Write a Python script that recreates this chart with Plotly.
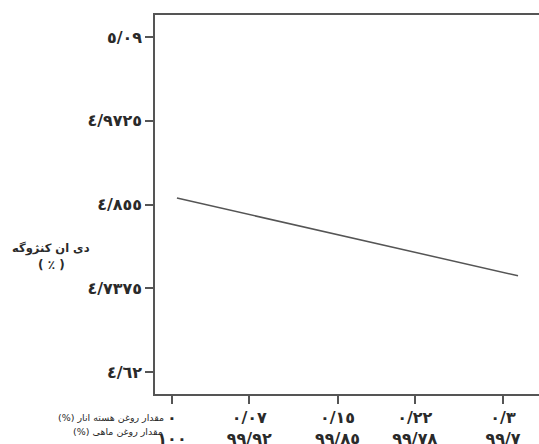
import plotly.graph_objects as go

# Data
line_x = [0.0045, 0.3136]
line_y = [4.864, 4.755]

y_tickvals = [5.09, 4.9725, 4.855, 4.7375, 4.62]
y_ticktext = ["٥/٠٩", "٤/٩٧٢٥", "٤/٨٥٥", "٤/٧٣٧٥", "٤/٦٢"]

x_tickvals = [0, 0.07, 0.15, 0.22, 0.3]
x_row1 = ["٠", "٠/٠٧", "٠/١٥", "٠/٢٢", "٠/٣"]
x_row2 = ["١٠٠", "٩٩/٩٢", "٩٩/٨٥", "٩٩/٧٨", "٩٩/٧"]

y_title = "دی ان کنژوگه"
y_unit = "( ٪ )"
row1_label = "مقدار روغن هسته انار (%)"
row2_label = "مقدار روغن ماهی (%)"

FONT = "DejaVu Sans"
AX = "#555555"
TXT = "#2a2a2a"


def rtl(s):
    # right-to-left embedding, so the text reads as in the reference
    return "\u202b" + s + "\u202c"


fig = go.Figure()
fig.add_trace(go.Scatter(x=line_x, y=line_y, mode="lines",
                         line=dict(color="#555555", width=1.5),
                         showlegend=False, hoverinfo="skip"))

x_ticktext = [f"<b>{a}</b><br><b>{b}</b>" for a, b in zip(x_row1, x_row2)]

fig.update_layout(
    width=539, height=444,
    margin=dict(l=155, r=0, t=15, b=50),
    paper_bgcolor="white", plot_bgcolor="white",
    font=dict(family=FONT, color=TXT),
    xaxis=dict(range=[-0.0154, 0.3326], tickvals=x_tickvals, ticktext=x_ticktext,
               automargin=False,
               showgrid=False, zeroline=False, showline=True, mirror=True,
               linecolor=AX, linewidth=1.5, ticks="outside", ticklen=8,
               tickcolor=AX, tickwidth=1.5,
               tickfont=dict(family=FONT, size=16, color=TXT)),
    yaxis=dict(range=[4.5891, 5.1209], tickvals=y_tickvals,
               ticktext=[f"<b>{t}</b>" for t in y_ticktext],
               automargin=False,
               showgrid=False, zeroline=False, showline=True, mirror=False,
               linecolor=AX, linewidth=1.5, ticks="outside", ticklen=8,
               tickcolor=AX, tickwidth=1.5,
               tickfont=dict(family=FONT, size=16, color=TXT)),
)

fig.add_annotation(xref="paper", yref="paper", x=-0.27, y=0.385,
                   xanchor="center", yanchor="middle",
                   text=f"<b>{rtl(y_title)}</b>", showarrow=False,
                   font=dict(family=FONT, size=11.5, color=TXT))
fig.add_annotation(xref="paper", yref="paper", x=-0.27, y=0.340,
                   xanchor="center", yanchor="middle",
                   text=f"<b>{y_unit}</b>", showarrow=False,
                   font=dict(family=FONT, size=12, color=TXT))
fig.add_annotation(xref="paper", yref="paper", x=0.0286, y=-0.0607,
                   yanchor="middle",
                   text=rtl(row1_label), showarrow=False, xanchor="right",
                   font=dict(family=FONT, size=9.5, color=TXT))
fig.add_annotation(xref="paper", yref="paper", x=0.026, y=-0.100,
                   yanchor="middle",
                   text=rtl(row2_label), showarrow=False, xanchor="right",
                   font=dict(family=FONT, size=9.5, color=TXT))

fig.write_html("out.html", config={"displayModeBar": False},
               post_script="document.body.style.margin='0';")
